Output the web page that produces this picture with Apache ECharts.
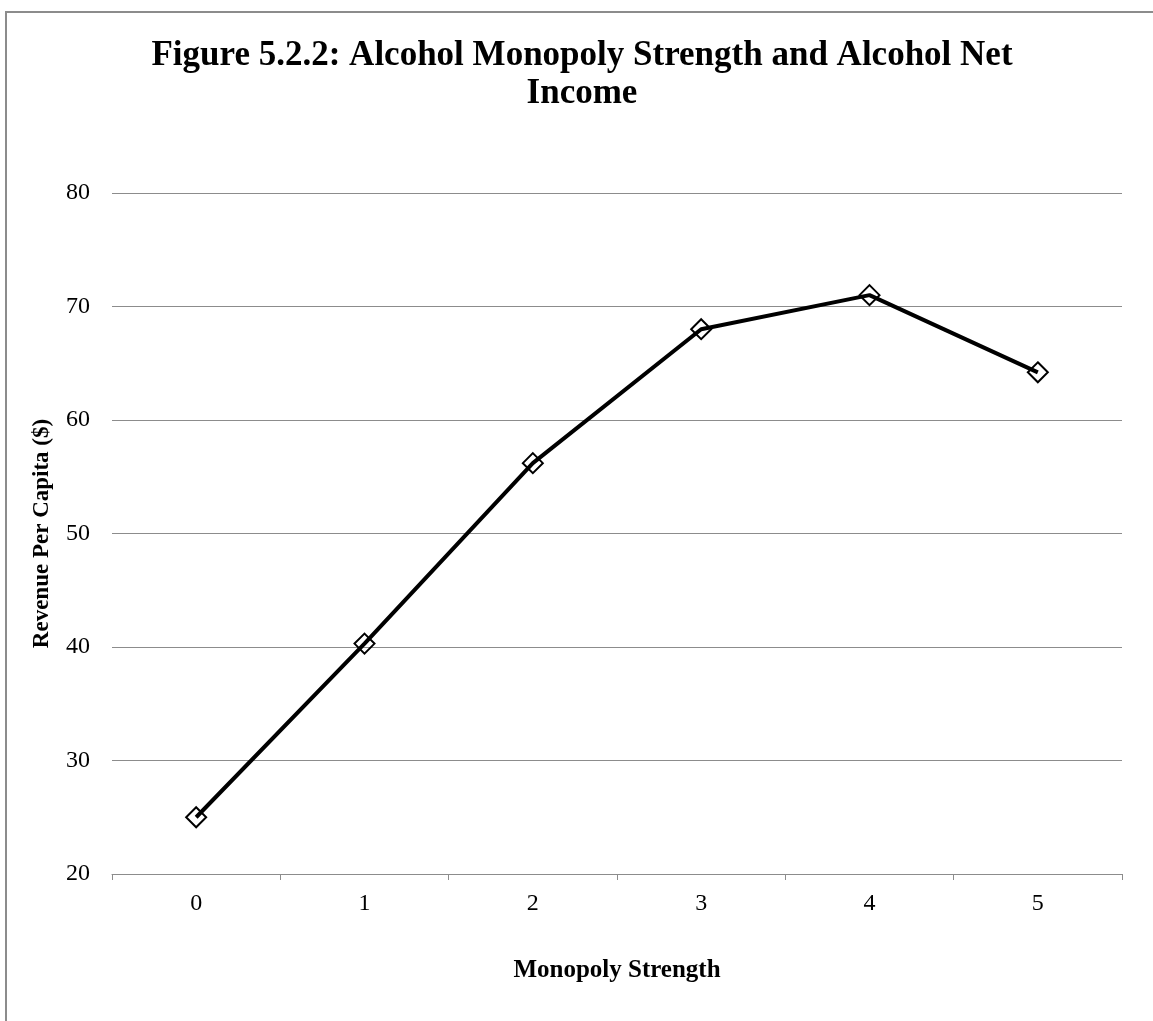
<!DOCTYPE html>
<html>
<head>
<meta charset="utf-8">
<script src="https://cdn.jsdelivr.net/npm/echarts@6/dist/echarts.min.js"></script>
<style>
  html, body { margin: 0; padding: 0; background: #fff; overflow: hidden; }
  #main {
    position: absolute; left: 5px; top: 11px;
    width: 1160px; height: 1020px;
    border-left: 2px solid #8c8c8c; border-top: 2px solid #8c8c8c;
  }
</style>
</head>
<body>
<div id="main"></div>
<script>
var strength = ["0", "1", "2", "3", "4", "5"];
var revenue = [25.0, 40.3, 56.2, 68.0, 71.0, 64.2];
var yTicks = { min: 20, max: 80, interval: 10 };

var serif = "'Liberation Serif', 'Times New Roman', serif";
var chart = echarts.init(document.getElementById("main"));
var option = {
  backgroundColor: "#fff",
  animation: false,
  title: {
    text: "Figure 5.2.2: Alcohol Monopoly Strength and Alcohol Net\nIncome",
    left: 570,
    textAlign: "center",
    top: 19,
    textStyle: {
      fontFamily: serif, fontSize: 35, fontWeight: "bold",
      color: "#000", lineHeight: 38
    }
  },
  grid: { left: 105, top: 180, width: 1010, height: 681 },
  xAxis: {
    type: "category",
    data: strength,
    boundaryGap: true,
    name: "Monopoly Strength",
    nameLocation: "middle",
    nameGap: 84,
    nameTextStyle: { fontFamily: serif, fontSize: 25, fontWeight: "bold", color: "#000" },
    axisLine: { lineStyle: { color: "#8c8c8c", width: 1 } },
    axisTick: { show: true, length: 6, lineStyle: { color: "#8c8c8c" } },
    axisLabel: { fontFamily: serif, fontSize: 24, color: "#000", margin: 18 }
  },
  yAxis: {
    type: "value",
    min: yTicks.min,
    max: yTicks.max,
    interval: yTicks.interval,
    name: "Revenue Per Capita ($)",
    nameLocation: "middle",
    nameGap: 58,
    nameTextStyle: { fontFamily: serif, fontSize: 23, fontWeight: "bold", color: "#000" },
    axisLine: { show: false },
    axisTick: { show: false },
    axisLabel: { fontFamily: serif, fontSize: 24, color: "#000", margin: 22 },
    splitLine: { lineStyle: { color: "#8c8c8c", width: 1 } }
  },
  series: [
    {
      type: "line",
      data: revenue,
      symbol: "diamond",
      symbolSize: 20,
      lineStyle: { color: "#000", width: 4 },
      itemStyle: { color: "rgba(0,0,0,0)", borderColor: "#000", borderWidth: 2 }
    }
  ]
};
chart.setOption(option);
</script>
</body>
</html>
